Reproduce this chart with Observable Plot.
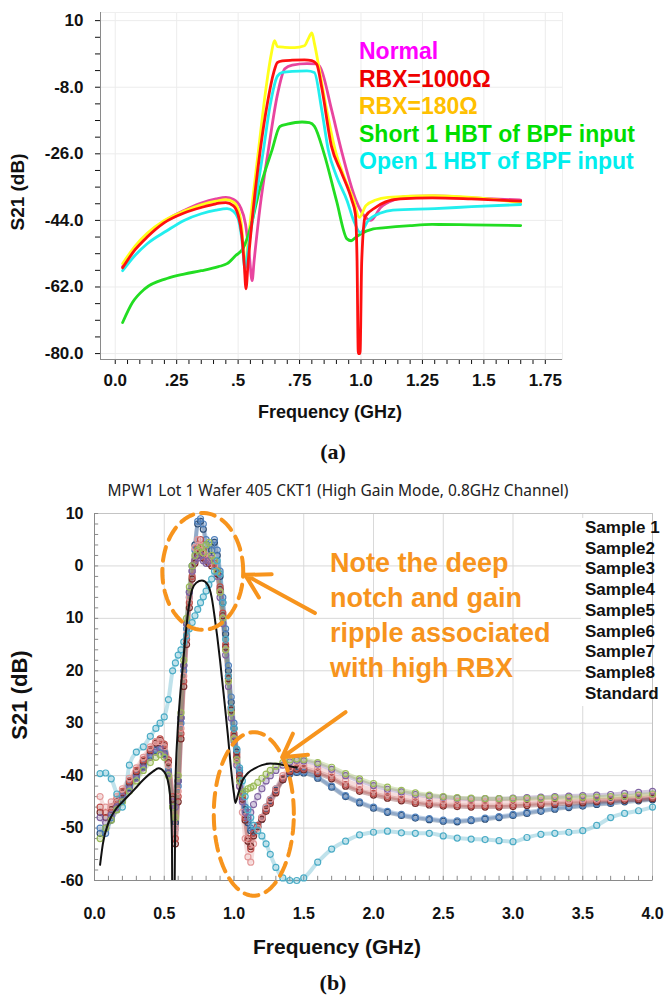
<!DOCTYPE html>
<html><head><meta charset="utf-8">
<script src="https://cdn.jsdelivr.net/npm/d3@7"></script>
<script src="https://cdn.jsdelivr.net/npm/@observablehq/plot@0.6"></script>
<style>
body{margin:0;background:#fff;}
#wrap{position:relative;width:665px;height:999px;overflow:hidden;font-family:"Liberation Sans",Arial,sans-serif;}
#a,#b{position:absolute;left:0;}
#a{top:0}#b{top:470px}
.t{position:absolute;white-space:nowrap;font-weight:bold;transform:translate(-50%,-50%);color:#111;}
.blk{position:absolute;white-space:nowrap;font-weight:bold;}
</style></head><body><div id="wrap"><div id="a"></div><div id="b"></div></div>
<script>
// ---------- Chart (a) data ----------
const seriesNamesA = ["Normal", "RBX=1000Ω", "RBX=180Ω", "Short 1 HBT of BPF input", "Open 1 HBT of BPF input"];
const legendColorsA = ["#ff00ff", "#ee0000", "#ffc000", "#00dd00", "#00eeee"];
const lineColorsA = ["#e8459f", "#ff1010", "#ffff1a", "#22dd22", "#22eeee"];

const normalF = [0.03,0.08,0.13,0.2,0.28,0.35,0.41,0.45,0.48,0.51,0.53,0.545,0.557,0.565,0.59,0.623,0.66,0.69,0.72,0.78,0.82,0.835,0.88,0.92,0.98,1.01,1.04,1.08,1.14,1.19,1.3,1.45,1.65];
const normalV = [-56.5,-51.5,-48,-44.2,-41.3,-39.3,-38.2,-37.8,-38.3,-40.5,-45,-53,-60.3,-55,-40,-25,-10,-3,-2,-1.6,-1.7,-2.7,-14,-25,-38.6,-42.5,-44,-40.5,-38.3,-37.5,-37.4,-37.9,-38.5];

const rbx1000F = [0.03,0.08,0.13,0.2,0.28,0.35,0.41,0.45,0.48,0.5,0.515,0.525,0.532,0.54,0.56,0.59,0.62,0.645,0.66,0.68,0.72,0.77,0.8,0.82,0.84,0.88,0.92,0.963,0.977,0.984,0.989,0.996,1.003,1.017,1.06,1.1,1.16,1.29,1.45,1.65];
const rbx1000V = [-56.8,-52,-48.5,-44.6,-42,-40.5,-39.5,-39.2,-40,-42.5,-48,-56,-62.5,-56,-42,-25,-12,-4,-1.3,-0.9,-0.7,-0.6,-0.8,-1.8,-8,-24,-31,-38.6,-42.2,-55,-80,-80,-55,-43,-40.5,-39,-38.2,-37.9,-38.2,-38.8];

const rbx180F = [0.03,0.08,0.13,0.2,0.28,0.35,0.41,0.45,0.48,0.5,0.515,0.528,0.54,0.56,0.583,0.61,0.635,0.648,0.66,0.69,0.73,0.77,0.785,0.8,0.81,0.83,0.86,0.895,0.93,0.97,0.993,1.02,1.06,1.11,1.29,1.45,1.65];
const rbx180V = [-55.7,-51,-47.5,-44,-41.5,-39.8,-38.8,-38.4,-39,-41,-46,-56.7,-50,-38,-25,-10,1,4.6,3,2.8,2.7,3.2,5,6.7,4,-3,-14,-25,-32,-38.6,-43.2,-40,-38.5,-37.8,-37.3,-37.8,-39.2];

const shortF = [0.03,0.07,0.12,0.21,0.28,0.35,0.42,0.455,0.49,0.52,0.55,0.59,0.638,0.67,0.7,0.76,0.79,0.81,0.85,0.9,0.943,0.96,0.98,1.0,1.05,1.09,1.2,1.29,1.45,1.65];
const shortV = [-71.6,-66.2,-62.5,-59.7,-58.5,-57.6,-56.5,-55.7,-53.5,-51.6,-46,-35,-25,-18.6,-18,-17.4,-17.6,-18.5,-26,-38.6,-49,-49.5,-48.5,-47.6,-46.3,-46,-45.4,-45.1,-45.2,-45.4];

const openF = [0.03,0.08,0.13,0.21,0.28,0.35,0.41,0.455,0.48,0.5,0.515,0.528,0.54,0.57,0.603,0.63,0.66,0.68,0.72,0.78,0.81,0.84,0.867,0.9,0.943,0.97,0.997,1.03,1.08,1.13,1.3,1.45,1.65];
const openV = [-57.6,-53.5,-50.3,-46.8,-44,-42.2,-41.2,-40.8,-41.5,-43.5,-49,-57,-52,-39,-25,-13,-5,-4,-3.7,-3.6,-4,-14,-25,-32,-38.6,-44,-47.3,-44,-42,-41.2,-40.8,-40.3,-39.7];

const xTicksA = [0, 0.25, 0.5, 0.75, 1.0, 1.25, 1.5, 1.75];
const xLabelsA = ["0.0", ".25", ".5", ".75", "1.0", "1.25", "1.5", "1.75"];
const yTicksA = [10, -8, -26, -44, -62, -80];
const yLabelsA = ["10", "-8.0", "-26.0", "-44.0", "-62.0", "-80.0"];

// ---------- Chart (b) data ----------
const sampleNames = ["Sample 1","Sample2","Sample3","Sample4","Sample5","Sample6","Sample7","Sample8"];
const sampleColors = ["#4F81BD","#C0504D","#9BBB59","#8064A2","#4BACC6","#E39A9A","#2C4D75","#772C2A"];
const freqB = [0.04,0.08,0.12,0.16,0.2,0.25,0.3,0.35,0.4,0.44,0.47,0.5,0.53,0.56,0.58,0.6,0.62,0.64,0.66,0.68,0.7,0.72,0.74,0.76,0.78,0.8,0.82,0.84,0.86,0.88,0.9,0.92,0.94,0.96,0.98,1.0,1.02,1.04,1.06,1.08,1.1,1.12,1.14,1.17,1.2,1.23,1.26,1.3,1.35,1.4,1.45,1.5,1.6,1.7,1.8,1.9,2.0,2.1,2.2,2.3,2.4,2.5,2.6,2.7,2.8,2.9,3.0,3.1,3.2,3.3,3.4,3.5,3.6,3.7,3.8,3.9,4.0];
const sample1 = [-50,-51,-48,-46,-44.5,-42,-40,-38,-36,-35,-34.5,-35.5,-39,-45,-50,-42,-30,-20,-12,-6,-1,3,8.5,9,8,5,3,4,5,3,-1,-6,-12,-19,-25,-30,-35,-39,-43,-46,-48.5,-50,-50.5,-49.5,-48,-46,-44.5,-42.5,-40.5,-39.5,-39.2,-39.3,-40.3,-42,-43.8,-45,-46,-46.8,-47.4,-47.9,-48.2,-48.5,-48.6,-48.4,-48.1,-47.8,-47.4,-47,-46.6,-46.2,-45.9,-45.6,-45.3,-45.1,-44.8,-44.6,-44.4];
const sample2 = [-46,-47,-46,-44.5,-43,-41,-39,-37,-35,-33.5,-33,-34,-37,-44,-52,-44,-32,-22,-14,-7,-2,1,3.5,5,3,1.5,1,0.5,0.5,-1,-4,-9,-15,-21,-27,-32,-36,-40,-44,-48,-52,-54,-51,-49.5,-48,-46.5,-45,-43,-40.5,-39,-38.5,-38.6,-39.3,-40.3,-41.7,-42.7,-43.4,-44,-44.5,-45,-45.3,-45.5,-45.6,-45.7,-45.7,-45.7,-45.6,-45.4,-45.3,-45.2,-45,-44.9,-44.7,-44.6,-44.4,-44.3,-44.1];
const sample3 = [-52,-50,-48.5,-46.5,-45,-43,-41,-39,-37.5,-36.5,-36,-36.5,-40,-46,-48,-40,-28,-18,-10,-4,0,2,3,3.5,2.5,4,4.5,2,1,-1,-5,-10,-16,-22,-28,-33,-37,-41,-43.5,-43,-42.5,-42.3,-42,-41.3,-40.5,-39.7,-39,-38.2,-37.5,-37,-36.8,-36.9,-37.5,-38.4,-39.6,-40.6,-41.5,-42.2,-42.8,-43.3,-43.7,-44,-44.2,-44.3,-44.4,-44.4,-44.4,-44.4,-44.3,-44.2,-44.2,-44.1,-44.1,-44,-43.9,-43.7,-43.5];
const sample4 = [-48,-49,-47.5,-46,-44,-42.5,-40.5,-38.5,-36.5,-35.5,-35,-36,-39.5,-45,-46,-41,-29,-19,-11,-5,-1,1,1.5,2,1,0.5,1,1.5,1,-2,-6,-11,-17,-23,-29,-33.5,-38,-42,-45,-47,-48,-47,-45.5,-44,-42.5,-41,-40,-39,-38,-37.4,-37.1,-37.2,-37.8,-38.8,-40,-41,-41.9,-42.6,-43.1,-43.6,-43.9,-44.1,-44.3,-44.4,-44.4,-44.4,-44.3,-44.2,-44.1,-44,-43.9,-43.8,-43.7,-43.6,-43.4,-43.2,-43];
const sample5 = [-39.6,-39.5,-40.6,-43.5,-46,-38,-35.5,-34.5,-32.5,-31,-30,-28.8,-25.5,-20,-18.5,-17,-16,-14.5,-13.3,-12,-10.8,-9.5,-8.3,-7,-5.9,-4.8,-3.6,-2.5,-1,1,-1.5,-7,-14,-21,-27,-31,-35,-38.5,-41,-44,-46.5,-48,-49.5,-50.5,-51.5,-53,-55,-57.5,-59.5,-60,-60,-59.5,-56.5,-54,-52.5,-51.3,-50.8,-50.6,-50.9,-51,-51,-51.5,-51.9,-52.1,-52.2,-52.4,-52.6,-51.8,-51.2,-51,-50.8,-50.5,-49.5,-48,-47.2,-46.7,-46];
const sample6 = [-44,-46,-45,-44,-42.5,-40.5,-38.5,-36.5,-34.5,-33.5,-33.5,-34.5,-38,-45,-50,-43,-31,-21,-13,-6,-1,3.5,5,4,2.5,2,1.5,1,0,-2,-5,-10,-16,-22,-28,-33,-37.5,-42,-47,-52,-55.5,-56.5,-53,-50,-48,-46,-44.5,-42.5,-40,-38.5,-38,-38,-38.6,-39.6,-40.9,-41.9,-42.7,-43.4,-43.9,-44.3,-44.6,-44.8,-44.9,-45,-45,-45,-44.9,-44.8,-44.8,-44.7,-44.7,-44.6,-44.5,-44.4,-44.2,-44,-43.8];
const sample7 = [-51,-50,-48.5,-46.5,-44.8,-42.3,-40.3,-38.2,-36.3,-35.2,-34.8,-35.8,-39.5,-46,-49,-41,-29,-19,-11,-5,0,4,8,8.5,7,4,2,3,4.5,2,-2,-7,-13,-20,-26,-31,-35.5,-39.5,-43.5,-46.5,-49,-50.5,-50.8,-49.8,-48.3,-46.4,-44.8,-42.8,-40.8,-39.7,-39.4,-39.5,-40.5,-42.2,-44,-45.2,-46.2,-47,-47.6,-48.1,-48.4,-48.7,-48.8,-48.6,-48.3,-48,-47.6,-47.2,-46.8,-46.4,-46.1,-45.8,-45.5,-45.3,-45,-44.8,-44.6];
const sample8 = [-47,-48,-46.5,-45,-43.3,-41.3,-39.3,-37.3,-35.3,-33.8,-33.3,-34.3,-37.5,-44.5,-53,-45,-33,-23,-15,-8,-2.5,0.5,2,2.5,1.5,1,0.5,0,0,-1.5,-4.5,-9.5,-15.5,-21.5,-27.5,-32.5,-36.5,-40.5,-44.5,-48.5,-52.5,-53.5,-51.5,-49.8,-48.3,-46.8,-45.3,-43.3,-40.8,-39.3,-38.8,-38.9,-39.6,-40.6,-42,-43,-43.7,-44.3,-44.8,-45.3,-45.6,-45.8,-45.9,-46,-46,-46,-45.9,-45.7,-45.6,-45.5,-45.3,-45.2,-45,-44.9,-44.7,-44.6,-44.4];

const standardF = [0.04,0.06,0.1,0.15,0.2,0.28,0.35,0.42,0.46,0.5,0.53,0.545,0.555,0.56,0.57,0.58,0.595,0.61,0.63,0.65,0.67,0.7,0.73,0.77,0.81,0.84,0.86,0.88,0.9,0.93,0.955,0.98,1.0,1.01,1.03,1.06,1.1,1.15,1.2,1.26,1.32,1.38,1.45];
const standardV = [-57,-53,-49,-46.5,-45,-42.8,-40.8,-39.2,-38.6,-39.3,-41.5,-45,-52,-75,-75,-42,-32,-26,-20,-14,-9,-4.5,-3.2,-2.8,-3.5,-6,-9.5,-13.5,-18,-25.5,-32,-39,-43.5,-45.2,-43.5,-41,-39.5,-38.6,-38,-37.7,-37.8,-38.1,-38.5];

const xTicksB = [0, 0.5, 1, 1.5, 2, 2.5, 3, 3.5, 4];
const xLabelsB = ["0.0","0.5","1.0","1.5","2.0","2.5","3.0","3.5","4.0"];
const yTicksB = [10, 0, -10, -20, -30, -40, -50, -60];
const yLabelsB = ["10","0","10","20","30","-40","-50","-60"];

// annotations (data units)
const ellCx = [0.776, 1.142], ellCy = [-1.05, -47.3], ellRx = [0.29, 0.287], ellRy = [11.15, 15.6];
const arrowX1 = [1.58, 1.80], arrowY1 = [-9, -27.9], arrowX2 = [1.08, 1.345], arrowY2 = [-1.7, -36.5];
const noteLines = ["Note the deep", "notch and gain", "ripple associated", "with high RBX"];
const titleB = "MPW1 Lot 1 Wafer 405 CKT1 (High Gain Mode, 0.8GHz Channel)";

// ---------- helpers ----------
const FONT = "'Liberation Sans', Arial, sans-serif";
const near = (arr, d) => arr.findIndex(t => Math.abs(t - d) < 1e-6);
const fmt = (ticks, labels) => d => { const i = near(ticks, d); return i >= 0 ? labels[i] : ""; };
const rows = (F, V, name) => F.map((f, i) => ({f, v: V[i], name}));

// ---------- Chart (a) ----------
const seriesA = [
  rows(normalF, normalV, seriesNamesA[0]),
  rows(rbx180F, rbx180V, seriesNamesA[2]),
  rows(shortF, shortV, seriesNamesA[3]),
  rows(openF, openV, seriesNamesA[4]),
  rows(rbx1000F, rbx1000V, seriesNamesA[1])
];
const colorIdxA = [0, 2, 3, 4, 1];
const xDomA = [-0.06, 1.82], yDomA = [-81.6, 12.2];
const xMinorA = d3.range(0, 36).map(i => i * 0.05);
const yMinorA = d3.range(0, 21).map(i => 10 - i * 4.5);

const chartA = Plot.plot({
  width: 665, height: 470,
  marginLeft: 100, marginRight: 103, marginTop: 12, marginBottom: 111,
  style: {fontFamily: FONT, fontSize: "17px", fontWeight: "bold", color: "#111", background: "transparent", overflow: "visible"},
  x: {domain: xDomA, ticks: xMinorA, tickFormat: fmt(xTicksA, xLabelsA), tickSize: 5, tickPadding: 9, label: null},
  y: {domain: yDomA, ticks: yMinorA, tickFormat: fmt(yTicksA, yLabelsA), tickSize: 5, tickPadding: 12, label: null},
  marks: [
    Plot.ruleX(xTicksA, {stroke: "#ececec"}),
    Plot.ruleY(yTicksA, {stroke: "#ececec"}),
    Plot.frame({stroke: "#efefef"}),
    Plot.ruleX([xDomA[0]], {stroke: "#8a8a8a"}),
    Plot.ruleY([yDomA[0]], {stroke: "#8a8a8a"}),
    ...seriesA.map((s, k) => Plot.line(s, {x: "f", y: "v", stroke: lineColorsA[colorIdxA[k]], strokeWidth: 2.8, curve: "monotone-x"}))
  ]
});
document.getElementById("a").appendChild(chartA);

// ---------- Chart (b) ----------
const samples = [sample1, sample2, sample3, sample4, sample5, sample6, sample7, sample8];
const drawOrder = [6, 0, 7, 1, 5, 3, 2, 4];
const xMinorB = d3.range(0, 41).map(i => i * 0.1);
const yMinorB = d3.range(0, 36).map(i => 10 - i * 2);
const ellipsePts = ellCx.flatMap((cx, k) => d3.range(0, 361, 4).map(a => ({k, x: cx + ellRx[k] * Math.cos(a * Math.PI / 180), y: ellCy[k] + ellRy[k] * Math.sin(a * Math.PI / 180)})));
const arrows = arrowX1.map((x1, i) => ({x1, y1: arrowY1[i], x2: arrowX2[i], y2: arrowY2[i]}));
const ORANGE = "#f7941d";

const chartB = Plot.plot({
  width: 665, height: 529,
  marginLeft: 94, marginRight: 13, marginTop: 43, marginBottom: 119,
  style: {fontFamily: FONT, fontSize: "16px", fontWeight: "bold", color: "#111", background: "transparent", overflow: "visible"},
  x: {domain: [0, 4], ticks: xTicksB, tickFormat: fmt(xTicksB, xLabelsB), tickSize: 0, tickPadding: 27, label: null},
  y: {domain: [-60, 10], ticks: yTicksB, tickFormat: fmt(yTicksB, yLabelsB), tickSize: 0, tickPadding: 11, label: null},
  marks: [
    Plot.ruleX(xTicksB, {stroke: "#d9d9d9"}),
    Plot.ruleY(yTicksB, {stroke: "#d9d9d9"}),
    Plot.frame({stroke: "#c4c4c4"}),
    Plot.ruleX([0], {stroke: "#8a8a8a"}),
    Plot.ruleY([-60], {stroke: "#8a8a8a"}),
    Plot.ruleY(yMinorB, {x1: 0, x2: 0.03, stroke: "#8a8a8a"}),
    Plot.ruleX(xMinorB, {y1: -60, y2: -59.2, stroke: "#8a8a8a"}),
    ...drawOrder.map(k => Plot.line(rows(freqB, samples[k], sampleNames[k]), {x: "f", y: "v", stroke: sampleColors[k], strokeWidth: 4, strokeOpacity: 0.35, curve: "monotone-x"})),
    ...drawOrder.map(k => Plot.dot(rows(freqB, samples[k], sampleNames[k]), {x: "f", y: "v", stroke: sampleColors[k], r: 3, strokeWidth: 1.2, fill: "none"})),
    Plot.line(rows(standardF, standardV, "Standard"), {x: "f", y: "v", stroke: "#111", strokeWidth: 2, curve: "monotone-x", clip: true}),
    Plot.line(ellipsePts, {x: "x", y: "y", z: "k", stroke: ORANGE, strokeWidth: 4, strokeDasharray: "14,8"}),
    Plot.arrow(arrows, {x1: "x1", y1: "y1", x2: "x2", y2: "y2", stroke: ORANGE, strokeWidth: 4, headLength: 18})
  ]
});
document.getElementById("b").appendChild(chartB);

// ---------- HTML text (titles, legends, annotation) ----------
const wrap = document.getElementById("wrap");
function addText(txt, cx, cy, css) {
  const d = document.createElement("div");
  d.className = "t"; d.textContent = txt;
  Object.assign(d.style, {left: cx + "px", top: cy + "px"}, css || {});
  wrap.appendChild(d); return d;
}
addText("S21 (dB)", 18, 192, {fontSize: "19px", transform: "translate(-50%,-50%) rotate(-90deg)"});
addText("Frequency (GHz)", 330, 412, {fontSize: "18px"});
addText("(a)", 333, 452, {fontSize: "22px", fontFamily: "'Liberation Serif', 'DejaVu Serif', serif"});
addText(titleB, 338, 490, {fontSize: "15.5px", fontWeight: "normal", fontFamily: "'Noto Sans', sans-serif", color: "#222"});
addText("S21 (dB)", 20, 695, {fontSize: "22px", transform: "translate(-50%,-50%) rotate(-90deg)"});
addText("Frequency (GHz)", 337, 947, {fontSize: "21px"});
addText("(b)", 333, 983, {fontSize: "22px", fontFamily: "'Liberation Serif', 'DejaVu Serif', serif"});

// legend (a)
const legA = document.createElement("div");
legA.className = "blk";
Object.assign(legA.style, {left: "359px", top: "38px", fontSize: "23px", lineHeight: "27.5px"});
seriesNamesA.forEach((n, i) => { const s = document.createElement("div"); s.textContent = n; s.style.color = legendColorsA[i]; legA.appendChild(s); });
wrap.appendChild(legA);

// legend (b)
const legB = document.createElement("div");
legB.className = "blk";
Object.assign(legB.style, {left: "581px", top: "518px", width: "71px", height: "188px", background: "#fff", fontSize: "17px", lineHeight: "20.7px", paddingLeft: "4px", boxSizing: "border-box", color: "#111", overflow: "visible"});
[...sampleNames, "Standard"].forEach(n => { const s = document.createElement("div"); s.textContent = n; legB.appendChild(s); });
wrap.appendChild(legB);

// annotation text
const note = document.createElement("div");
note.className = "blk";
Object.assign(note.style, {left: "330px", top: "545.5px", fontSize: "27px", lineHeight: "35px", color: ORANGE});
noteLines.forEach(l => { const s = document.createElement("div"); s.textContent = l; note.appendChild(s); });
wrap.appendChild(note);
</script>
</body></html>
